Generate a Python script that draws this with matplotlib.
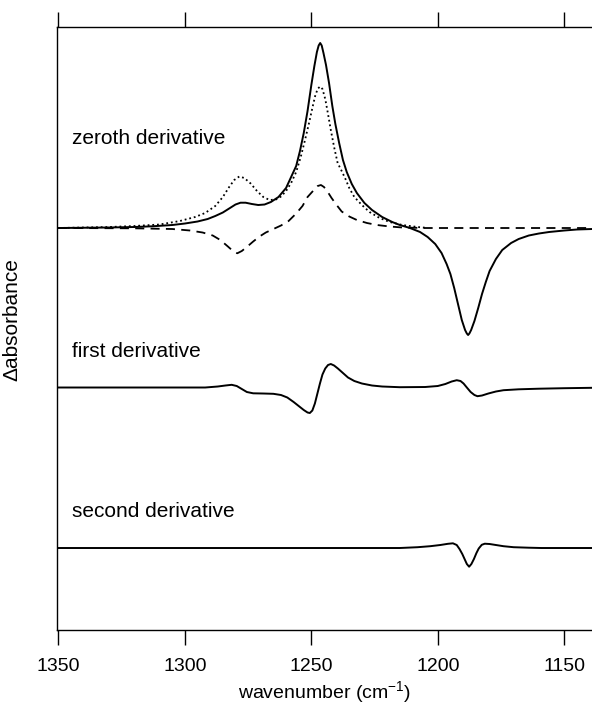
import matplotlib
matplotlib.use("Agg")
import matplotlib.pyplot as plt

plt.rcParams['font.family'] = ['Liberation Sans', 'DejaVu Sans']
plt.rcParams['mathtext.fontset'] = 'custom'
plt.rcParams['mathtext.rm'] = 'Liberation Sans'
plt.rcParams['mathtext.it'] = 'Liberation Sans'

# zeroth derivative, total (solid)
wn_total = [1350, 1330, 1320, 1313, 1305, 1300, 1295, 1291, 1288, 1285, 1282.5, 1280, 1278,
            1276, 1273.5, 1271, 1268.5, 1266, 1263, 1260, 1258, 1256, 1254.5, 1253, 1251.5,
            1250, 1248.8, 1247.8, 1247.1, 1246.5, 1245.9, 1245.2, 1244.2, 1243, 1241.7,
            1240.5, 1239, 1237.5, 1236, 1234, 1232, 1229, 1226, 1222, 1218, 1215, 1211, 1207,
            1204, 1201, 1198.5, 1196.5, 1195, 1193.5, 1192, 1190.5, 1189.2, 1188.5, 1188,
            1187.5, 1186.8, 1185.5, 1184, 1182.5, 1181, 1179.5, 1177, 1174.5, 1171, 1168,
            1164, 1160, 1156, 1150, 1145, 1139]
abs_total = [0, 0.5, 1.0, 1.7, 3, 4.5, 6.5, 9, 12, 15.5, 19.5, 23.5, 25.3,
             25.3, 24, 23, 23.5, 26, 31, 40, 51, 62, 77, 95, 117,
             143, 162, 176, 182.5, 185, 182.5, 175, 163, 145, 122,
             104, 85, 68, 56, 44, 35, 25, 18, 11, 6, 3, 0, -4,
             -9, -16, -25, -36, -46, -60, -76, -92, -102, -105.5, -107,
             -105.5, -102, -93, -80, -66, -54, -43, -31, -22, -15, -11,
             -7.5, -5.5, -4, -2.5, -1.5, -1]

# zeroth derivative, positive bands (dotted)
wn_pos = [1350, 1330, 1320, 1310, 1302, 1296, 1292, 1288, 1285, 1282.5, 1280.5, 1278.5,
          1276.5, 1274, 1271.5, 1269, 1266.5, 1264, 1262, 1260, 1258, 1256, 1254.2, 1252.5,
          1251, 1249.6, 1248.4, 1247.4, 1246.5, 1245.6, 1244.5, 1243.4, 1242.3, 1241,
          1239.6, 1238, 1236.5, 1235, 1233, 1230, 1227, 1223, 1219, 1214, 1208, 1205]
abs_pos = [0, 1, 2, 3.5, 7, 11, 15, 22, 31, 41, 48, 51.5,
           50, 44.5, 37, 31, 28, 28.5, 31.5, 37, 45, 56, 71, 88,
           104, 120, 133, 139.5, 141.5, 139, 129, 114, 98, 81,
           65, 57, 49, 40, 31, 23, 16, 10, 6, 3, 1, 0.3]

# zeroth derivative, difference (dashed)
wn_diff = [1350, 1320, 1305, 1298, 1293, 1289, 1286, 1283, 1281, 1279.3, 1277.5, 1275.3,
           1273, 1270.5, 1268, 1265, 1262, 1259, 1256, 1253.5, 1251.5, 1249, 1247.5, 1246.2,
           1245, 1243.5, 1242, 1240, 1238, 1235, 1232, 1228, 1224, 1219, 1214, 1205, 1139]
abs_diff = [0, -0.3, -1, -2.5, -4.5, -7.5, -12, -18.5, -23, -25.3, -23, -18.5,
            -13.5, -8.5, -4.5, -1, 2.5, 7, 14.5, 22, 31, 38, 42, 43,
            41, 36, 30, 23, 16.5, 11.5, 8, 5, 3, 1.5, 0.5, 0, 0]

# first derivative
wn_d1 = [1350, 1300, 1292, 1287, 1284, 1281.5, 1279.5, 1277.5, 1275.5, 1273, 1269, 1265,
         1262, 1259.5, 1257, 1255, 1253, 1251.5, 1250.6, 1249.6, 1248.6, 1247.6, 1246.6,
         1245.6, 1244.5, 1243.4, 1242.3, 1241, 1239.5, 1237.5, 1235.5, 1233, 1230, 1226,
         1222, 1215, 1205, 1200, 1197, 1194.5, 1192.5, 1191, 1189.8, 1188.5, 1187, 1185.5,
         1184.3, 1182.5, 1180, 1177, 1174, 1168, 1160, 1150, 1139]
abs_d1 = [0, 0, 0, 1, 2, 2.7, 1.5, -1.5, -4.5, -5.8, -6, -6.3,
          -7.5, -10, -14.5, -18.5, -22.5, -25, -25.5, -23, -16, -6, 4,
          13, 19, 22.5, 23.5, 22, 19, 14.5, 10, 6.5, 4, 2,
          1, 0.3, 0.5, 1.5, 3.5, 6, 7.3, 6.5, 4, 0, -4.5, -7.5,
          -8.7, -8, -6, -4, -2.7, -1.8, -1.2, -0.7, -0.3]

# second derivative
wn_d2 = [1350, 1215, 1208, 1203, 1199, 1196, 1194, 1192.5, 1191.4, 1190.3, 1189.4, 1188.5,
         1187.6, 1186.7, 1185.7, 1184.7, 1183.8, 1182.6, 1181.4, 1179.5, 1177, 1174, 1170,
         1164, 1159, 1139]
abs_d2 = [0, 0, 0.8, 1.8, 3, 4.2, 4.7, 3, -1, -6, -11, -16,
          -18.7, -16, -11, -5, -0.5, 3.2, 4.3, 4, 3, 1.8, 0.8,
          0.3, 0, 0]

offsets = [0, -159.5, -320]
labels = ["zeroth derivative", "first derivative", "second derivative"]
label_y = [84, -129.3, -288.6]

fig = plt.figure(figsize=(5.92, 7.07), dpi=100)
ax = fig.add_axes([0.0956, 0.1089, 0.9044, 0.8529])

ax.plot(wn_pos, [v + offsets[0] for v in abs_pos], color='black', lw=1.3, ls=(0, (1, 1.6)))
ax.plot(wn_diff, [v + offsets[0] for v in abs_diff], color='black', lw=1.3, ls=(0, (5, 3.5)))
ax.plot(wn_total, [v + offsets[0] for v in abs_total], color='black', lw=1.4)
ax.plot(wn_d1, [v + offsets[1] for v in abs_d1], color='black', lw=1.4)
ax.plot(wn_d2, [v + offsets[2] for v in abs_d2], color='black', lw=1.4)

for txt, yy in zip(labels, label_y):
    ax.text(1344.8, yy, txt, fontsize=15, va='baseline', ha='left')

ax.set_xlim(1350.75, 1139)
ax.set_ylim(-402, 201)
ax.set_xticks([1350, 1300, 1250, 1200, 1150])
ax.set_yticks([])
ax.spines['right'].set_visible(False)
for s in ['left', 'top', 'bottom']:
    ax.spines[s].set_linewidth(1.0)
ax.tick_params(axis='x', which='both', top=True, bottom=True, labeltop=False,
               direction='out', length=10.8, width=1.0, labelsize=14, pad=9)
ax.set_xlabel(r"wavenumber (cm$^{-1}$)", fontsize=14, labelpad=3)
fig.text(12 / 592, 1 - 320 / 707, "Δabsorbance", rotation=90, fontsize=15,
         ha='center', va='center')

fig.savefig("out.png", dpi=100)
